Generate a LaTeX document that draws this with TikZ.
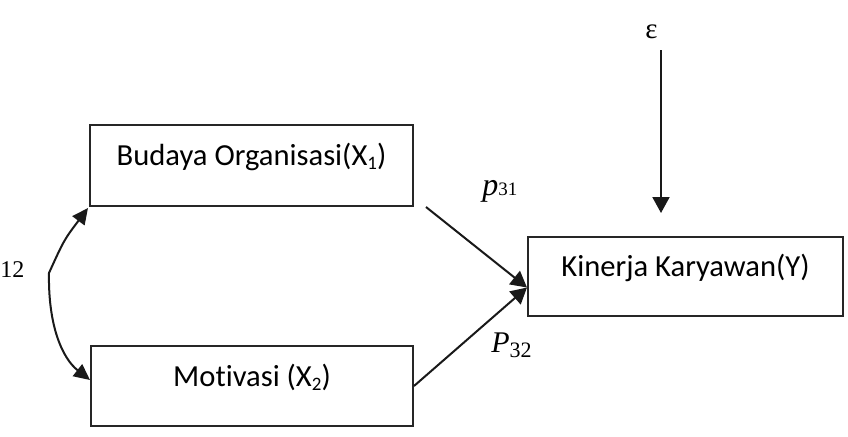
\documentclass[tikz,border=0pt]{standalone}
\usepackage{fontspec}
\setmainfont{Carlito}[Ligatures=NoCommon]
\newfontfamily\seriffont{Liberation Serif}
\usetikzlibrary{arrows.meta,calc}
\begin{document}
\begin{tikzpicture}[x=0.5pt,y=-0.5pt,
  box/.style={draw=black!85, line width=1pt, rectangle, inner sep=0pt,
    text height=4pt, text depth=4pt, font=\fontsize{15.3}{18}\selectfont},
  arr/.style={line width=1pt, draw=black!90, -{Triangle[length=8pt,width=8.5pt]}},
  dbl/.style={line width=1pt, draw=black!90, {Triangle[length=8pt,width=7.5pt]}-{Triangle[length=8pt,width=7.5pt]}},
  lab/.style={inner sep=0pt, font=\seriffont}]
\useasboundingbox (0,0) rectangle (848,436);
\newcommand{\sbx}[1]{\raisebox{-2pt}{\fontsize{9.5}{11}\selectfont #1}}
% boxes
\node[box, minimum width=161.5pt, minimum height=40.5pt] (b1) at (251.5,165.5) {Budaya Organisasi(X\sbx{1})};
\node[box, minimum width=161pt, minimum height=40pt] (b2) at (252,386) {Motivasi (X\sbx{2})};
\node[box, minimum width=157.5pt, minimum height=39.5pt] (b3) at (685.5,276.5) {Kinerja Karyawan(Y)};
% labels
\node[lab, anchor=base west] (p31) at (482,195) {\fontsize{16}{18}\selectfont\itshape p\/\raisebox{0pt}{\fontsize{9.5}{10}\selectfont\upshape 31}};
\node[lab, anchor=base west] (p32) at (491,352) {\fontsize{15}{17}\selectfont\itshape P\/\raisebox{-2.5pt}{\fontsize{11}{12}\selectfont\upshape 32}};
\node[lab, anchor=base west] (eps) at (645,38) {\fontsize{14.5}{17}\selectfont ε};
\node[lab, anchor=base west] (r12) at (0,277) {\fontsize{12}{14}\selectfont 12};
% coordinates
\coordinate (tip) at ($(b3.west)+(0,11)$);
\coordinate (s31) at ($(b1.south east)+(12,0)$);
\coordinate (epsS) at (661,50);
\coordinate (epsE) at (661,213);
\coordinate (apex) at (49,273);
\coordinate (t1) at ($(b1.south west)+(-1,1)$);
\coordinate (t2) at ($(b2.west)+(0,-6)$);
% connectors
\draw[arr] (s31) -- (tip);
\draw[arr] (b2.east) -- (tip);
\draw[arr] (epsS) -- (epsE);
\draw[dbl] (t1) .. controls (64,240) .. (apex) .. controls (48,325) and (62,358) .. (t2);
\end{tikzpicture}
\end{document}
